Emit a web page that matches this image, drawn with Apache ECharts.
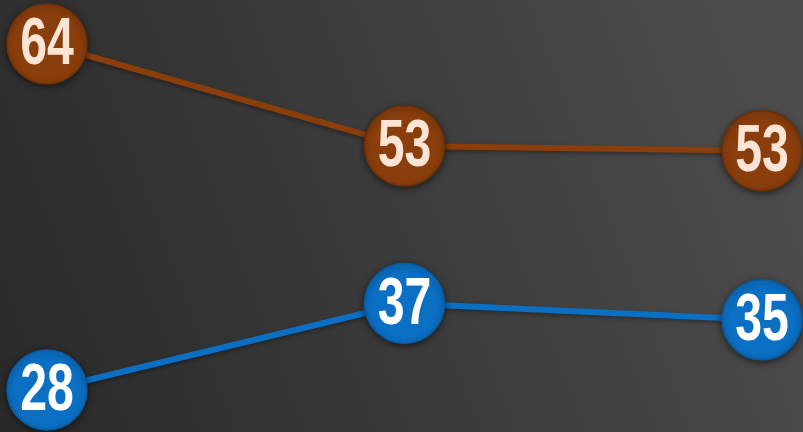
<!DOCTYPE html>
<html>
<head>
<meta charset="utf-8">
<script src="https://cdn.jsdelivr.net/npm/echarts@6/dist/echarts.min.js"></script>
<style>html,body{margin:0;padding:0;}#c{width:803px;height:432px;}</style>
</head>
<body>
<div id="c"></div>
<script>
var categories = ['A', 'B', 'C'];
var brownValues = [64, 53.4, 52.9];
var blueValues = [28, 37, 35.3];

var chart = echarts.init(document.getElementById('c'));
function lineSeries(name, data, color, border) {
  return {
    name: name,
    type: 'line',
    data: data,
    symbol: 'circle',
    symbolSize: 80,
    lineStyle: { width: 6, color: color, shadowColor: 'rgba(0,0,0,0.35)', shadowBlur: 4, shadowOffsetY: 2 },
    itemStyle: { color: color, borderColor: border, borderWidth: 1.5, shadowColor: 'rgba(0,0,0,0.5)', shadowBlur: 6, shadowOffsetY: 2 },
    label: { show: false },
    emphasis: { disabled: true },
    animation: false,
    z: 2
  };
}
function labelSeries(name, data, labelColor) {
  return {
    name: name + '-label',
    type: 'custom',
    data: data.map(function (v, i) { return [i, v]; }),
    animation: false,
    silent: true,
    z: 5,
    renderItem: function (params, api) {
      var v = api.value(1);
      var pt = api.coord([api.value(0), v]);
      return {
        type: 'text',
        x: pt[0],
        y: pt[1] + 2,
        scaleX: 0.72,
        style: {
          text: String(Math.round(v)),
          fill: labelColor,
          font: 'bold 67px "Liberation Sans", Arial, sans-serif',
          align: 'center',
          verticalAlign: 'middle'
        }
      };
    }
  };
}
chart.setOption({
  backgroundColor: {
    type: 'linear', x: 0, y: 1, x2: 1, y2: 0.3,
    colorStops: [
      { offset: 0, color: '#292929' },
      { offset: 1, color: '#4d4d4d' }
    ]
  },
  grid: { left: 47, right: 41, top: 44, bottom: 42 },
  xAxis: { type: 'category', data: categories, boundaryGap: false, show: false },
  yAxis: { type: 'value', min: 'dataMin', max: 'dataMax', show: false, splitLine: { show: false } },
  series: [
    lineSeries('brown', brownValues, '#8a3e0c', '#6e3008'),
    lineSeries('blue', blueValues, '#0b6fc4', '#0a5aa0'),
    labelSeries('brown', brownValues, '#fde4d4'),
    labelSeries('blue', blueValues, '#ffffff')
  ]
});
</script>
</body>
</html>
